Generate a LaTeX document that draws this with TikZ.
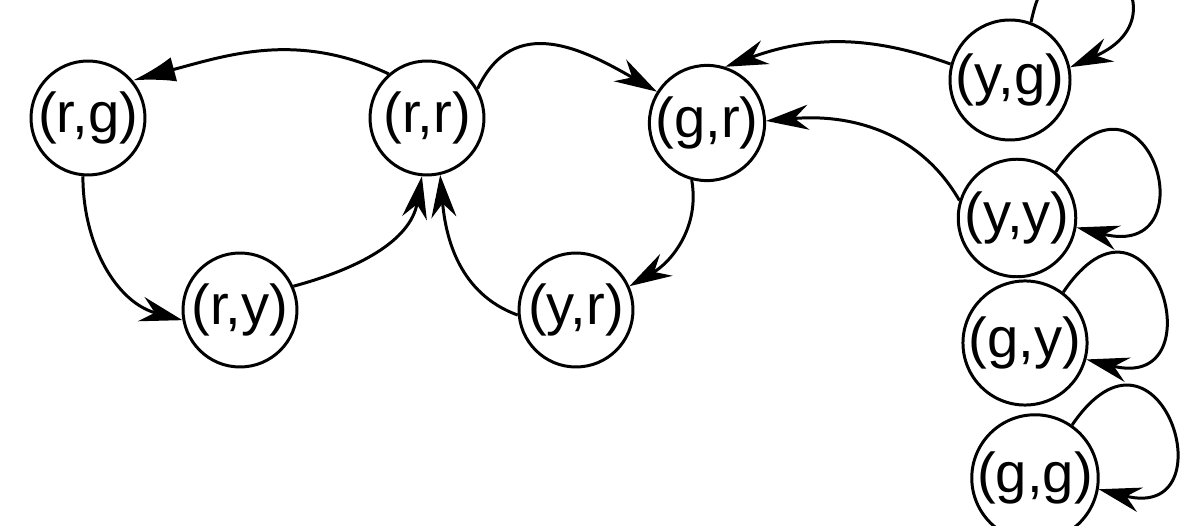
\documentclass[tikz,border=0pt]{standalone}
\usepackage{fontspec}
\setmainfont{Liberation Sans}
\usetikzlibrary{arrows.meta}

\begin{document}
\begin{tikzpicture}[x=0.02cm, y=-0.02cm, line width=1.7pt,
    every node/.style={circle, draw, minimum size=2.28cm, inner sep=0pt, font=\fontsize{32}{36}\selectfont},
    >={Stealth[length=0.85cm,width=0.5cm,inset=0.28cm]}]
      \useasboundingbox (0,0) rectangle (1193,526);

      \node (rg) at (88,118) {(r,g)};
      \node (rr) at (427,118) {(r,r)};
      \node (gr) at (707,123) {(g,r)};
      \node (ry) at (240,310) {(r,y)};
      \node (yr) at (576,310) {(y,r)};

      \node (yg) at (1010,80) {(y,g)};
      \node (yy) at (1017,218) {(y,y)};
      \node (gy) at (1025,343) {(g,y)};
      \node (gg) at (1035,478) {(g,g)};

      \draw[-{Latex[length=0.85cm,width=0.5cm]}] (rr.131) to [out=155, in=15] (rg.40);
      \draw[->] (rg.265) to [out=-90, in=165] (ry.190);
      \draw[->] (ry.24) to [out=15, in=-100] (rr.265);
      \draw[->] (yr.185) to [out=160, in=-85] (rr.283);
      \draw[->] (rr.30) to [out=65, in=150, looseness=1.2] (gr.148);
      \draw[->] (gr.255) to [out=-80, in=30] (yr.24);
      \draw[->] (yg.165) to [out=160, in=20] (gr.72);
      \draw[->] (yy.163) to [out=120, in=5] (gr.2);

      % self loops
      \draw[->] (yg.70) .. controls (1060,-120) and (1200,10) .. (yg.12);
      \draw[->] (yy.50) .. controls (1146,39) and (1213,262) .. (yy.-9);
      \draw[->] (gy.53) .. controls (1151,162) and (1220,393) .. (gy.-15);
      \draw[->] (gg.55) .. controls (1160,296) and (1231,523) .. (gg.-10);
\end{tikzpicture}
\end{document}
